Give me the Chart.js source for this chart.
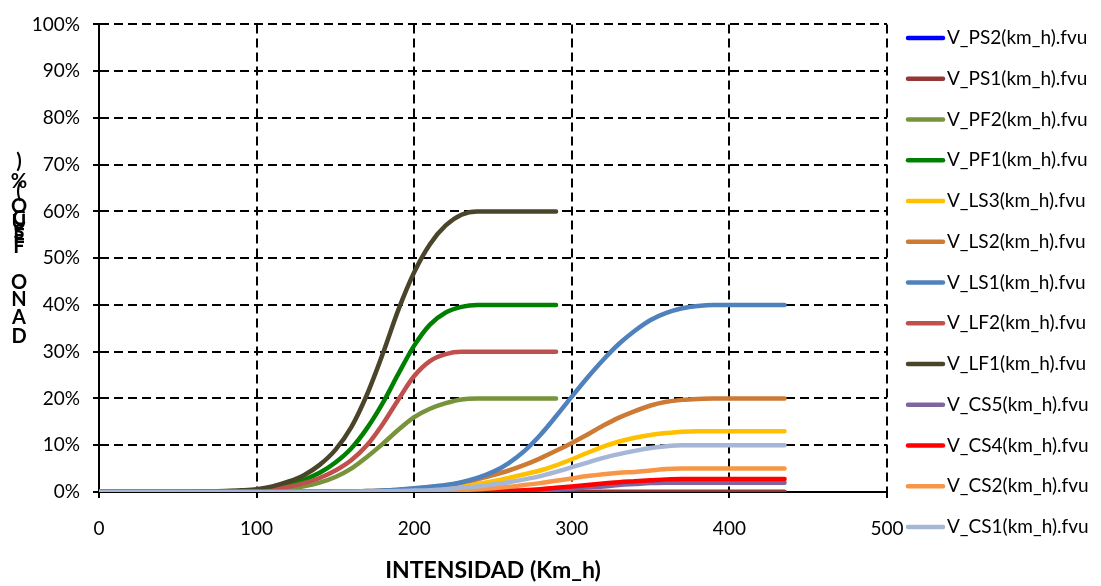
<!DOCTYPE html>
<html>
<head>
<meta charset="utf-8">
<script src="https://cdn.jsdelivr.net/npm/chart.js@4.4.1/dist/chart.umd.min.js"></script>
<style>
html,body{margin:0;padding:0;background:#fff;}
#wrap{width:1101px;height:586px;position:relative;}
</style>
</head>
<body>
<div id="wrap"><canvas id="c" width="1101" height="586"></canvas></div>
<script>
// ---------- data ----------
const xA = [0,10,20,30,40,50,60,70,80,90,100,110,120,130,140,150,160,170,180,190,200,210,220,230,240,250,260,270,280,290];
const xB = [0,10,20,30,40,50,60,70,80,90,100,110,120,130,140,150,160,170,180,190,200,210,220,230,240,250,260,270,280,290,300,310,320,330,340,350,360,370,380,390,400,410,420,430,435];

const LF1 = [0,0,0,0,0,0,0.05,0.1,0.2,0.35,0.6,1.2,2.2,3.6,5.8,9,13.8,20.8,29.5,39,47,53,57,59.3,60,60,60,60,60,60];
const PF1 = [0,0,0,0,0,0,0,0.05,0.1,0.2,0.4,0.9,1.6,2.6,4.1,6.3,9.3,13.6,19,25.3,31.3,35.8,38.4,39.6,40,40,40,40,40,40];
const LF2 = [0,0,0,0,0,0,0,0.03,0.08,0.15,0.3,0.6,1.1,1.9,3,4.6,6.8,10,14.5,19.8,24.8,28,29.5,30,30,30,30,30,30,30];
const PF2 = [0,0,0,0,0,0,0,0,0.05,0.1,0.2,0.4,0.7,1.2,2,3.2,5,7.5,10.3,13.3,16,17.8,19,19.8,20,20,20,20,20,20];

const LS1 = [0,0,0,0,0,0,0,0,0,0,0,0,0,0,0,0.05,0.1,0.2,0.3,0.5,0.8,1.1,1.5,2.1,3,4.3,6.2,8.8,12.2,16.2,20.4,24.5,28.3,31.7,34.5,36.8,38.3,39.3,39.8,40,40,40,40,40,40];
const LS2 = [0,0,0,0,0,0,0,0,0,0,0,0,0,0,0,0.05,0.1,0.2,0.3,0.5,0.7,1,1.4,2,2.7,3.6,4.6,5.8,7.2,8.8,10.5,12.3,14.2,15.9,17.3,18.5,19.3,19.7,19.9,20,20,20,20,20,20];
const LS3 = [0,0,0,0,0,0,0,0,0,0,0,0,0,0,0,0.03,0.06,0.1,0.2,0.3,0.4,0.6,0.9,1.2,1.7,2.3,3,3.8,4.6,5.7,7,8.4,9.7,10.8,11.6,12.2,12.6,12.9,13,13,13,13,13,13,13];
const CS1 = [0,0,0,0,0,0,0,0,0,0,0,0,0,0,0,0.03,0.05,0.1,0.15,0.2,0.3,0.4,0.6,0.9,1.2,1.6,2.1,2.7,3.4,4.3,5.3,6.3,7.3,8.1,8.8,9.4,9.8,10,10,10,10,10,10,10,10];
const CS2 = [0,0,0,0,0,0,0,0,0,0,0,0,0,0,0,0,0,0.02,0.04,0.06,0.1,0.2,0.3,0.4,0.6,0.8,1.1,1.5,1.9,2.4,2.9,3.4,3.8,4.1,4.3,4.6,4.9,5,5,5,5,5,5,5,5];
const CS4 = [0,0,0,0,0,0,0,0,0,0,0,0,0,0,0,0,0,0,0,0,0,0,0.1,0.15,0.2,0.25,0.3,0.4,0.6,0.9,1.2,1.5,1.8,2.1,2.3,2.5,2.7,2.8,2.8,2.8,2.8,2.8,2.8,2.8,2.8];
const CS5 = [0,0,0,0,0,0,0,0,0,0,0,0,0,0,0,0,0,0,0,0,0,0,0,0,0,0,0.1,0.2,0.3,0.5,0.7,1,1.2,1.5,1.7,1.9,2,2,2,2,2,2,2,2,2];
const PS1 = [0,0,0,0,0,0,0,0,0,0,0,0,0,0,0,0,0,0,0,0,0,0,0,0,0,0,0,0,0,0,0,0,0,0,0,0,0,0,0,0,0,0,0,0,0];
const PS2 = [0,0,0,0,0,0,0,0,0,0,0,0,0,0,0,0,0,0,0,0,0,0,0,0,0,0,0,0,0,0,0,0,0,0,0,0,0,0,0,0,0,0,0,0,0];

const seriesNames = ["V_PS2(km_h).fvu","V_PS1(km_h).fvu","V_PF2(km_h).fvu","V_PF1(km_h).fvu","V_LS3(km_h).fvu","V_LS2(km_h).fvu","V_LS1(km_h).fvu","V_LF2(km_h).fvu","V_LF1(km_h).fvu","V_CS5(km_h).fvu","V_CS4(km_h).fvu","V_CS2(km_h).fvu","V_CS1(km_h).fvu"];
const seriesValues = [PS2,PS1,PF2,PF1,LS3,LS2,LS1,LF2,LF1,CS5,CS4,CS2,CS1];
const seriesX = [xB,xB,xA,xA,xB,xB,xB,xA,xA,xB,xB,xB,xB];
const seriesColors = ["#0000FF","#953735","#77933C","#008000","#FFC000","#CC7A34","#4F81BD","#C0504D","#4A452A","#8064A2","#FF0000","#F79646","#A6B6D6"];

const xTickValues = [0,100,200,300,400,500];
const yTickValues = [0,10,20,30,40,50,60,70,80,90,100];
const xTitle = "INTENSIDAD (Km_h)";
const yTitleChars = [")","%","(","O","C","U","S","E","F","O","N","A","D"];

// ---------- chart ----------
const datasets = seriesNames.map((n,i)=>({
  label:n,
  data: seriesValues[i].map((v,k)=>({x:seriesX[i][k], y:v})),
  borderColor: seriesColors[i],
  backgroundColor: seriesColors[i],
  borderWidth: 4.5,
  pointRadius: 0,
  fill:false,
  cubicInterpolationMode:'monotone',
  borderCapStyle:'round',
  borderJoinStyle:'round',
  order: seriesNames.length - 1 - i
}));

const yTitlePos = [162,182,192,207,219,223,233,237,247,283,300,318,337];
const yTitlePlugin = {
  id:'yTitle',
  afterDraw(chart){
    const ctx = chart.ctx;
    ctx.save();
    ctx.fillStyle = '#000';
    ctx.font = 'bold 20px Lato';
    ctx.textAlign = 'center';
    ctx.textBaseline = 'middle';
    yTitleChars.forEach((ch,i)=>{ ctx.fillText(ch, 19, yTitlePos[i]); });
    ctx.restore();
  }
};

const legendPlugin = {
  id:'sideLegend',
  afterDraw(chart){
    const ctx = chart.ctx;
    ctx.save();
    chart.data.datasets.forEach((ds,i)=>{
      const y = 38 + i*40.75;
      ctx.strokeStyle = ds.borderColor;
      ctx.lineWidth = 4.5;
      ctx.lineCap = 'round';
      ctx.beginPath();
      ctx.moveTo(908,y); ctx.lineTo(943,y); ctx.stroke();
      ctx.fillStyle = '#000';
      ctx.font = '19px Lato';
      ctx.textAlign = 'left';
      ctx.textBaseline = 'middle';
      ctx.fillText(ds.label, 947, y);
    });
    ctx.restore();
  }
};

new Chart(document.getElementById('c'), {
  type:'line',
  data:{datasets},
  options:{
    responsive:false,
    animation:false,
    layout:{padding:{left:0,top:20,right:214,bottom:0}},
    plugins:{legend:{display:false}, tooltip:{enabled:false}},
    scales:{
      x:{
        type:'linear', min:0, max:500,
        afterBuildTicks(s){ s.ticks = xTickValues.map(v=>({value:v})); },
        afterFit(s){ s.height = 94; },
        ticks:{color:'#000', font:{family:'Lato', size:19}, padding:19, maxRotation:0},
        grid:{color:'#000', lineWidth:2, tickLength:6, tickColor:'#000', tickWidth:2},
        border:{display:true, color:'#000', width:2, dash:[9,5]},
        title:{display:true, text:xTitle, color:'#000', font:{family:'Lato', size:23, weight:'bold'}, padding:{top:0,bottom:2}}
      },
      y:{
        type:'linear', min:0, max:100,
        afterBuildTicks(s){ s.ticks = yTickValues.map(v=>({value:v})); },
        afterFit(s){ s.width = 99; },
        ticks:{color:'#000', font:{family:'Lato', size:19}, padding:13, callback:v=>v+'%'},
        grid:{color:'#000', lineWidth:2, tickLength:6, tickColor:'#000', tickWidth:2},
        border:{display:true, color:'#000', width:2, dash:[9,5]}
      }
    }
  },
  plugins:[yTitlePlugin, legendPlugin]
});
</script>
</body>
</html>
